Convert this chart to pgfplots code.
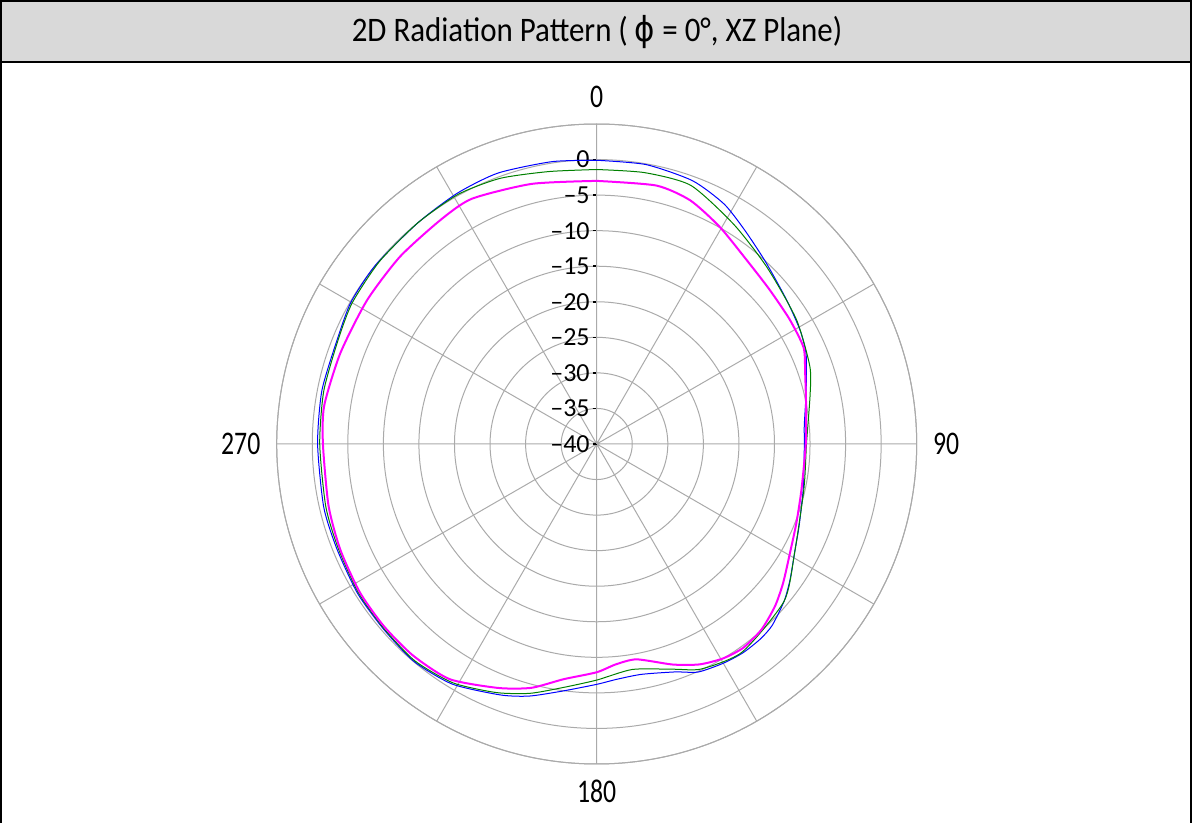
\documentclass[border=0pt]{standalone}
\usepackage{fontspec}
\setmainfont{Carlito}
\newfontfamily\titlefont{Carlito}[FakeStretch=0.9]
\newfontfamily\anglefont{Carlito}[FakeStretch=0.78]
\newfontfamily\symfont{DejaVu Sans}[FakeStretch=0.9]
\usepackage{pgfplots}
\usepackage{pgfplotstable}
\usepgfplotslibrary{polar}
\pgfplotsset{compat=1.18}

% columns: theta (deg, clockwise from top), gain (dB)
\pgfplotstableread{
th db
0 -0.1
10 -0.1
20 -0.6
28 -1.8
35 -3.5
43 -5.1
53 -6.5
61 -7.25
67 -8.0
76 -9.65
85 -10.7
90 -10.8
102 -10.3
112 -9.3
118 -8.4
125 -6.8
130 -5.6
136 -4.5
140 -4.2
145 -4.15
150 -4.4
156 -4.9
161 -6.1
169 -7.0
175 -6.8
180 -6.2
188 -4.9
195 -3.3
201 -2.2
211 -0.6
220 -0.06
229 -0.3
238 -0.35
248 -0.6
257 -0.6
270 -0.75
281 -0.63
292 -0.66
300 -0.1
309 0.0
321 0.0
331 0.35
340 0.55
351 0.2
360 -0.1
}\blueT

\pgfplotstableread{
th db
0 -1.4
10 -1.25
20 -1.3
32 -3.6
44 -5.5
58 -6.9
70 -8.1
77 -9.2
90 -10.5
102 -10.2
119 -8.2
130 -5.6
145 -4.3
155 -5.1
161 -6.5
171 -7.9
180 -6.8
188 -5.4
195 -3.7
202 -2.3
211 -0.8
220 -0.2
229 -0.4
238 -0.5
248 -0.8
257 -0.9
270 -1.05
281 -0.9
292 -0.8
300 -0.3
310 -0.1
321 0.0
331 0.15
340 -0.25
350 -1.1
360 -1.4
}\greenT

\pgfplotstableread{
th db
0 -3.0
13 -2.7
21 -3.3
29.5 -4.9
39 -6.6
48 -7.4
57 -7.7
65 -7.9
71 -9.0
80 -10.1
90 -10.6
102.5 -10.5
111.6 -9.8
119.4 -8.8
126.7 -7.3
132.3 -6.1
138.4 -5.1
144.3 -4.7
149.5 -5.0
155 -5.8
161 -7.2
169.5 -9.2
175 -8.9
180 -7.9
188 -6.6
195 -4.5
202 -3.0
212 -1.0
221 -0.6
229.5 -0.6
238 -0.7
247.6 -1.0
257 -1.3
270 -1.5
278 -1.3
289.5 -1.75
302 -1.9
313.6 -1.8
325 -1.6
333 -1.3
346 -2.3
360 -3.0
}\magT

\definecolor{gridgray}{RGB}{170,170,170}
\definecolor{titlegray}{RGB}{217,217,217}
\definecolor{cblue}{RGB}{0,0,255}
\definecolor{cgreen}{RGB}{0,128,0}
\definecolor{cmag}{RGB}{255,0,255}

\begin{document}
\begin{tikzpicture}
\useasboundingbox (0,0) rectangle (596pt,411.5pt);
\fill[titlegray] (0,380.5pt) rectangle (596pt,411.5pt);
\draw[line width=1pt] (0.5pt,0) -- (0.5pt,411pt) -- (595.5pt,411pt) -- (595.5pt,0);
\draw[line width=0.8pt] (0,380.5pt) -- (596pt,380.5pt);
\node[font=\titlefont\fontsize{17.2}{19}\selectfont] at (298.5pt,395.5pt) {2D Radiation Pattern ( {\symfont ϕ} = 0°, XZ Plane)};
\begin{polaraxis}[
  at={(298.35pt,189.5pt)}, anchor=center,
  scale only axis, width=320pt, height=320pt,
  xmin=90, xmax=450, ymin=0, ymax=45,
  xtick={90,120,...,420},
  xticklabels={0,,,270,,,180,,,90,,},
  ytick={0,5,...,40},
  yticklabels={–40,–35,–30,–25,–20,–15,–10,–5,0},
  extra y ticks={45},
  extra y tick labels={},
  extra y tick style={tick style={draw=none}},
  grid=major,
  major grid style={gridgray, line width=0.5pt},
  axis line style={gridgray, line width=0.5pt},
  xtick style={draw=none},
  ytick style={black, line width=0.8pt},
  major tick length=2pt,
  xticklabel style={font=\anglefont\fontsize{16.5}{18}\selectfont, inner sep=8pt},
  yticklabel style={font=\fontsize{13}{15}\selectfont},
  clip=false,
]
\addplot[cblue, line width=0.5pt, smooth, tension=0.4] table[x expr={450-\thisrow{th}}, y expr={\thisrow{db}+40}] {\blueT};
\addplot[cgreen, line width=0.5pt, smooth, tension=0.4] table[x expr={450-\thisrow{th}}, y expr={\thisrow{db}+40}] {\greenT};
\addplot[cmag, line width=1pt, smooth, tension=0.4] table[x expr={450-\thisrow{th}}, y expr={\thisrow{db}+40}] {\magT};
\end{polaraxis}
\end{tikzpicture}
\end{document}
